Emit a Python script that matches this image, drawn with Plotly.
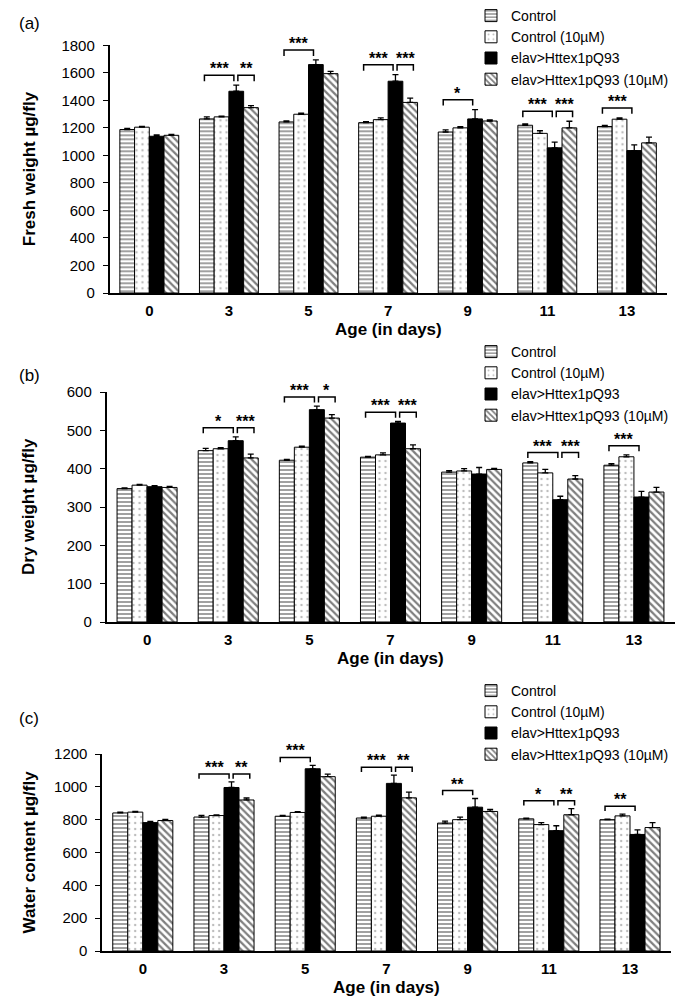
import plotly.graph_objects as go

days = ["0", "3", "5", "7", "9", "11", "13"]
groups = ["Control", "Control (10µM)", "elav>Httex1pQ93", "elav>Httex1pQ93 (10µM)"]

# (a) fresh weight, µg/fly
fresh_ctrl = [1188, 1265, 1243, 1238, 1170, 1219, 1210]
fresh_ctrl10 = [1205, 1280, 1299, 1260, 1200, 1160, 1263]
fresh_htt = [1139, 1466, 1660, 1539, 1265, 1055, 1035]
fresh_htt10 = [1146, 1347, 1594, 1385, 1250, 1200, 1091]
fresh_ctrl_err = [8, 15, 8, 8, 15, 10, 8]
fresh_ctrl10_err = [6, 6, 8, 12, 8, 19, 10]
fresh_htt_err = [10, 44, 34, 48, 68, 41, 41]
fresh_htt10_err = [6, 15, 17, 31, 8, 48, 41]

# (b) dry weight, µg/fly
dry_ctrl = [348, 447, 422, 430, 391, 415, 409]
dry_ctrl10 = [357, 452, 456, 436, 394, 389, 431]
dry_htt = [353, 473, 554, 519, 386, 319, 326]
dry_htt10 = [351, 428, 532, 452, 398, 373, 339]
dry_ctrl_err = [2, 6, 2, 2, 4, 3, 4]
dry_ctrl10_err = [2, 3, 3, 5, 6, 9, 5]
dry_htt_err = [3, 10, 9, 4, 17, 9, 15]
dry_htt10_err = [3, 10, 9, 10, 3, 9, 12]

# (c) water content, µg/fly
water_ctrl = [841, 816, 821, 810, 779, 805, 800]
water_ctrl10 = [846, 825, 844, 821, 800, 770, 823]
water_htt = [782, 996, 1110, 1021, 876, 733, 710]
water_htt10 = [795, 920, 1062, 933, 850, 830, 752]
water_ctrl_err = [5, 10, 5, 5, 12, 5, 3]
water_ctrl10_err = [5, 4, 5, 6, 16, 12, 11]
water_htt_err = [8, 34, 21, 50, 53, 30, 28]
water_htt10_err = [6, 12, 16, 35, 12, 37, 30]

# significance: (day index, pair, label); pair 0 = Control vs elav, pair 1 = elav vs elav (10µM)
fresh_sig = [(1, 0, "***"), (1, 1, "**"), (2, 0, "***"), (3, 0, "***"), (3, 1, "***"),
             (4, 0, "*"), (5, 0, "***"), (5, 1, "***"), (6, 0, "***")]
dry_sig = [(1, 0, "*"), (1, 1, "***"), (2, 0, "***"), (2, 1, "*"), (3, 0, "***"), (3, 1, "***"),
           (5, 0, "***"), (5, 1, "***"), (6, 0, "***")]
water_sig = [(1, 0, "***"), (1, 1, "**"), (2, 0, "***"), (3, 0, "***"), (3, 1, "**"),
             (4, 0, "**"), (5, 0, "*"), (5, 1, "**"), (6, 0, "**")]

W, H = 687, 1006
FONT = "Arial, 'Liberation Sans', sans-serif"
BARGAP = 0.26


def px(x):
    return x / W


def py(y):
    return 1 - y / H


patterns = [
    dict(shape="-", fgcolor="#444", bgcolor="white", size=4, solidity=0.5),
    dict(shape=".", fgcolor="#777", bgcolor="white", size=6, solidity=0.12),
    None,
    dict(shape="\\", fgcolor="black", bgcolor="white", size=5, solidity=0.45),
]
fills = ["white", "white", "black", "white"]

panels = [
    dict(vals=[fresh_ctrl, fresh_ctrl10, fresh_htt, fresh_htt10],
         errs=[fresh_ctrl_err, fresh_ctrl10_err, fresh_htt_err, fresh_htt10_err],
         sig=fresh_sig, ymax=1800, dtick=200, ytitle="Fresh weight µg/fly", label="(a)",
         xdom=(101.5, 658.7), ydom=(285, 37.3), legtop=-8, labgap=22),
    dict(vals=[dry_ctrl, dry_ctrl10, dry_htt, dry_htt10],
         errs=[dry_ctrl_err, dry_ctrl10_err, dry_htt_err, dry_htt10_err],
         sig=dry_sig, ymax=600, dtick=100, ytitle="Dry weight µg/fly", label="(b)",
         xdom=(98.5, 666.5), ydom=(614, 384), legtop=328, labgap=17),
    dict(vals=[water_ctrl, water_ctrl10, water_htt, water_htt10],
         errs=[water_ctrl_err, water_ctrl10_err, water_htt_err, water_htt10_err],
         sig=water_sig, ymax=1200, dtick=200, ytitle="Water content µg/fly", label="(c)",
         xdom=(94.2, 662.6), ydom=(943, 746), legtop=667, labgap=36),
]

fig = go.Figure()
shapes = []
annotations = []
layout = {}

gw = 1 - BARGAP
for p_i, p in enumerate(panels):
    sfx = "" if p_i == 0 else str(p_i + 1)
    xa, ya = "x" + sfx, "y" + sfx
    leg = "legend" + sfx
    for g in range(4):
        marker = dict(color=fills[g], line=dict(color="black", width=1))
        if patterns[g]:
            marker["pattern"] = patterns[g]
        fig.add_trace(go.Bar(
            x=list(range(len(days))), y=p["vals"][g], name=groups[g],
            error_y=dict(type="data", array=p["errs"][g], arrayminus=[0] * len(days),
                         symmetric=False, color="black", thickness=1.3, width=3),
            marker=marker, xaxis=xa, yaxis=ya, legend=leg,
        ))

    layout["xaxis" + sfx] = dict(
        domain=[px(p["xdom"][0]), px(p["xdom"][1])], anchor=ya, range=[-0.5, 6.5],
        tickvals=list(range(len(days))), ticktext=days, ticks="", showgrid=False,
        showline=True, linecolor="black", linewidth=1.5, zeroline=False,
        tickfont=dict(family=FONT, size=15, color="black", weight="bold"),
        ticklabelstandoff=3,
    )
    layout["yaxis" + sfx] = dict(
        domain=[py(p["ydom"][0]), py(p["ydom"][1])], anchor=xa, range=[0, p["ymax"]],
        dtick=p["dtick"], ticks="outside", ticklen=5, tickwidth=1.3, tickcolor="black",
        showgrid=False, showline=True, linecolor="black", linewidth=1.5, zeroline=False,
        tickfont=dict(family=FONT, size=15, color="black"), ticklabelstandoff=5,
    )
    layout[leg] = dict(
        x=px(463), y=py(p["legtop"]), xanchor="left", yanchor="top",
        bgcolor="rgba(0,0,0,0)", font=dict(family=FONT, size=14, color="black"),
        itemwidth=30, tracegroupgap=0,
    )

    # significance brackets
    rng = p["ymax"]
    tick = 0.024 * rng
    for day, pair, lab in p["sig"]:
        top = max(p["vals"][g][day] + p["errs"][g][day] for g in range(4))
        lvl = top + 0.04 * rng
        centers = [day - gw / 2 + (g + 0.5) * gw / 4 for g in range(4)]
        if pair == 0:
            x1, x2 = centers[0] - 0.03, centers[2] - 0.03
        else:
            x1, x2 = centers[2] + 0.02, centers[3] + 0.04
        shapes.append(dict(type="path", xref=xa, yref=ya,
                           path=f"M{x1},{lvl - tick} L{x1},{lvl} L{x2},{lvl} L{x2},{lvl - tick}",
                           line=dict(color="black", width=1.5)))
        annotations.append(dict(x=(x1 + x2) / 2, y=lvl, xref=xa, yref=ya, text=lab,
                                showarrow=False, xanchor="center", yanchor="bottom", yshift=-4,
                                font=dict(family=FONT, size=16, color="black", weight="bold")))

    # titles and panel label
    ymid = (p["ydom"][0] + p["ydom"][1]) / 2
    annotations.append(dict(x=px(21), y=py(ymid), xref="paper", yref="paper",
                            text=p["ytitle"], textangle=-90, showarrow=False,
                            xanchor="center", yanchor="middle",
                            font=dict(family=FONT, size=17, color="black", weight="bold")))
    xmid = (p["xdom"][0] + p["xdom"][1]) / 2
    annotations.append(dict(x=px(xmid), y=py(p["ydom"][0] + 36), xref="paper", yref="paper",
                            text="Age (in days)", showarrow=False,
                            xanchor="center", yanchor="middle",
                            font=dict(family=FONT, size=17, color="black", weight="bold")))
    annotations.append(dict(x=px(21), y=py(p["ydom"][1] - p["labgap"]), xref="paper", yref="paper",
                            text=p["label"], showarrow=False,
                            xanchor="center", yanchor="middle",
                            font=dict(family=FONT, size=17, color="black")))

fig.update_layout(
    width=W, height=H,
    margin=dict(l=0, r=0, t=0, b=0, autoexpand=False),
    paper_bgcolor="white", plot_bgcolor="white",
    barmode="group", bargap=BARGAP, bargroupgap=0,
    font=dict(family=FONT, color="black"),
    shapes=shapes, annotations=annotations,
    **layout,
)

fig.write_html("out.html")
